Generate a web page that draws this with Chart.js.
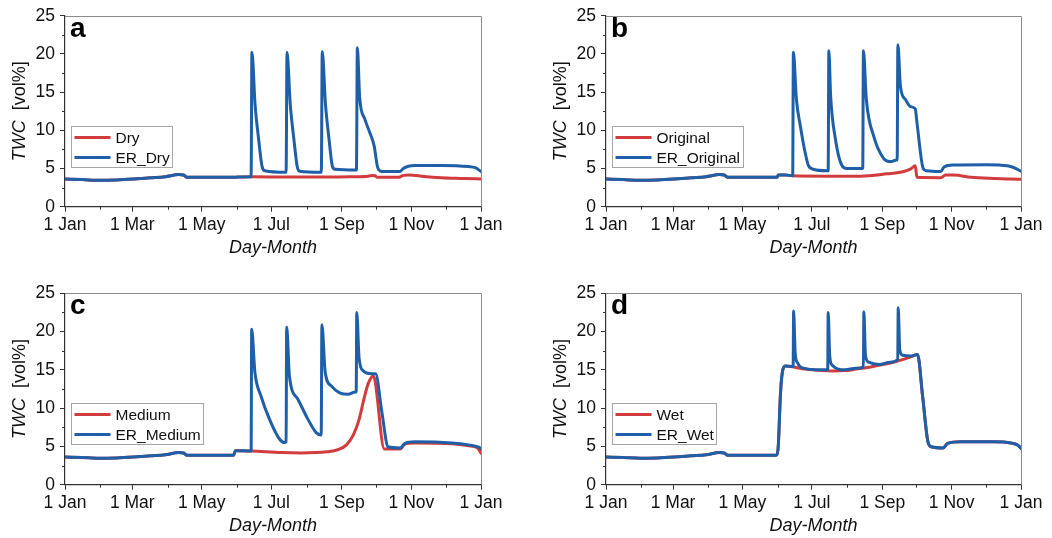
<!DOCTYPE html>
<html>
<head>
<meta charset="utf-8">
<script src="https://cdn.jsdelivr.net/npm/chart.js@4.4.1/dist/chart.umd.min.js"></script>
<style>
  body { margin: 0; background: #fff; }
  #wrap { position: relative; width: 1052px; height: 538px; }
  #wrap canvas { position: absolute; }
</style>
</head>
<body>
<div id="wrap">
  <canvas id="pa" width="526" height="269" style="left:0;top:0"></canvas>
  <canvas id="pb" width="526" height="269" style="left:526px;top:0"></canvas>
  <canvas id="pc" width="526" height="269" style="left:0;top:269px"></canvas>
  <canvas id="pd" width="526" height="269" style="left:526px;top:269px"></canvas>
</div>
<script>
// x axis: day of year, labelled by month
const tickDays = [0, 59, 120, 181, 243, 304, 365];
const tickLabels = ['1 Jan', '1 Mar', '1 May', '1 Jul', '1 Sep', '1 Nov', '1 Jan'];
const minorDays = [31, 90, 151, 212, 273, 334];
const minorTwc = [2.5, 7.5, 12.5, 17.5, 22.5];

// shared Jan-May part of every curve
const baseDays = [0, 15, 30, 45, 60, 75, 88, 100, 104, 107, 130, 148];
const baseVals = [3.62, 3.55, 3.45, 3.5, 3.62, 3.78, 3.92, 4.2, 4.15, 3.85, 3.85, 3.85];

// a - Dry
const dryDays = [155, 163, 200, 250, 266, 270, 272, 274, 293, 297, 302, 315, 330, 350, 365];
const dryVals = [3.9, 3.92, 3.88, 3.92, 4.0, 4.1, 4.05, 3.85, 3.85, 4.1, 4.15, 3.95, 3.8, 3.7, 3.62];
const erDryDays = [155, 163.3, 164, 166.8, 170, 173, 175.5, 193.5, 194, 194.8, 197.6, 201, 203.8, 206, 224.3,
  224.9, 225.7, 228.5, 231.7, 234.6, 237, 255.1, 255.7, 256.5, 258.6, 263, 267.4, 271.2, 274.2, 276.2,
  280.6, 293.8, 296.8, 301.2, 307, 330, 354, 360, 365];
const erDryVals = [3.9, 3.92, 20.2, 13.3, 8.7, 5.2, 4.7, 4.5, 4.5, 20.2, 13.5, 8.6, 5.2, 4.65, 4.5,
  4.5, 20.3, 13.5, 8.8, 5.3, 4.9, 4.8, 4.8, 20.8, 14.2, 11.5, 9.7, 8.0, 5.2, 4.7,
  4.6, 4.6, 5.0, 5.3, 5.4, 5.4, 5.25, 5.1, 4.6];

// b - Original
const origDays = [150.5, 151.5, 158, 164, 194, 224, 247, 262, 268, 272, 273.5, 294.4, 298.7, 306, 321, 341.5, 365];
const origVals = [3.85, 4.15, 4.15, 4.05, 4.0, 4.0, 4.3, 4.6, 4.95, 5.35, 3.85, 3.8, 4.15, 4.15, 3.85, 3.7, 3.6];
const erOrigDays = [150.5, 151.5, 158, 164.2, 164.8, 167.5, 171, 175, 178, 182.5, 194.3, 195.4, 196, 197.6, 201.6,
  207.5, 212, 225.2, 225.8, 226.4, 229, 235.5, 244.3, 250.2, 255.5, 256.1, 256.7, 259, 263.5, 267.9,
  272, 273.5, 279, 282, 294.4, 297.3, 306, 335.5, 353, 359, 365];
const erOrigVals = [3.85, 4.15, 4.15, 4.05, 20.2, 14.0, 10.5, 7.2, 5.4, 4.9, 4.7, 4.7, 20.4, 14.4, 9.0,
  5.4, 5.0, 5.0, 5.0, 20.4, 14.0, 9.2, 6.3, 5.9, 6.1, 6.1, 21.2, 15.7, 14.0, 13.1,
  12.8, 11.0, 5.0, 4.7, 4.6, 5.2, 5.45, 5.5, 5.35, 5.1, 4.65];

// c - Medium
const medDays = [148, 149.5, 151.5, 163.5, 190, 207, 230, 240, 247, 253, 258, 262, 266, 270.4, 272, 280.2,
  294, 298.3, 307, 339.4, 354, 362, 365];
const medVals = [3.85, 4.45, 4.45, 4.4, 4.2, 4.15, 4.3, 4.6, 5.2, 6.5, 8.5, 11.0, 13.2, 14.2, 13.6, 4.65,
  4.65, 5.3, 5.45, 5.35, 5.1, 4.8, 4.1];
const erMedDays = [148, 149.5, 151.5, 163.3, 163.8, 166.6, 171.9, 180.7, 188, 192.5, 194, 194.5, 196.9, 204.2, 213,
  220.4, 224.2, 224.8, 225.4, 228.3, 233.6, 241, 248.3, 254.8, 255.5, 256, 258, 261.5, 268.9, 272.5,
  278, 283.5, 293.9, 298.3, 307, 339.4, 354, 363, 365];
const erMedVals = [3.85, 4.45, 4.45, 4.4, 20.3, 14.7, 11.6, 8.1, 6.0, 5.5, 5.6, 20.6, 14.2, 11.2, 8.6,
  6.8, 6.5, 6.5, 20.9, 14.7, 12.9, 12.0, 11.8, 12.1, 12.1, 22.5, 16.6, 14.9, 14.5, 14.5,
  9.5, 4.95, 4.8, 5.4, 5.6, 5.45, 5.2, 4.9, 4.7];

// d - Wet
const wetDays = [150.2, 151.5, 153.5, 155.5, 158, 164, 175, 190, 200, 210, 220, 230, 240, 250, 260,
  268, 274, 278.5, 283, 286, 296.5, 300.5, 312, 341.5, 356.2, 362, 365];
const wetVals = [3.9, 5.0, 12.0, 15.0, 15.5, 15.4, 15.1, 14.9, 14.85, 14.9, 15.1, 15.3, 15.6, 15.9, 16.3,
  16.7, 17.0, 11.5, 5.7, 4.95, 4.8, 5.4, 5.6, 5.6, 5.45, 5.2, 4.75];
const erWetDays = [150.2, 151.5, 153.5, 155.5, 158, 164.6, 165, 166.4, 168.5, 172, 190, 195, 195.4, 196.8, 199,
  210, 220, 226.4, 226.8, 228.2, 231, 240, 250, 256.6, 257, 258.4, 261, 268, 274, 278.5,
  283, 286, 296.5, 300.5, 312, 341.5, 356.2, 362, 365];
const erWetVals = [3.9, 5.0, 12.0, 15.0, 15.5, 15.45, 22.7, 17.2, 15.9, 15.3, 15.0, 15.0, 22.5, 16.8, 15.6,
  15.0, 15.2, 15.35, 22.6, 16.9, 16.0, 15.7, 16.0, 16.35, 23.1, 17.6, 16.9, 16.8, 17.0, 11.5,
  5.7, 4.95, 4.8, 5.4, 5.6, 5.6, 5.45, 5.2, 4.75];

const FONT = '"Liberation Sans", Arial, sans-serif';
const RED = '#d23c3c';
const BLUE = '#1f5fa8';
const INK = '#111';

function pts(days, vals) {
  const d = baseDays.concat(days), v = baseVals.concat(vals);
  return d.map((x, i) => ({ x, y: v[i] }));
}

// frame, minor ticks, panel letter, axis titles and the boxed legend
const decor = {
  id: 'decor',
  afterDraw(chart, args, opts) {
    const { ctx, chartArea: a, scales: { x, y } } = chart;
    ctx.save();
    ctx.strokeStyle = '#8c8c8c';
    ctx.lineWidth = 1;
    ctx.beginPath();
    ctx.moveTo(a.left, Math.round(a.top) + 0.5);
    ctx.lineTo(Math.round(a.right) + 0.5, Math.round(a.top) + 0.5);
    ctx.lineTo(Math.round(a.right) + 0.5, a.bottom);
    ctx.stroke();

    ctx.strokeStyle = '#333';
    ctx.beginPath();
    minorDays.forEach(d => {
      const px = Math.round(x.getPixelForValue(d)) + 0.5;
      ctx.moveTo(px, a.bottom); ctx.lineTo(px, a.bottom + 3);
    });
    minorTwc.forEach(v => {
      const py = Math.round(y.getPixelForValue(v)) + 0.5;
      ctx.moveTo(a.left, py); ctx.lineTo(a.left - 3, py);
    });
    ctx.stroke();

    ctx.fillStyle = '#000';
    ctx.textBaseline = 'alphabetic';
    ctx.textAlign = 'left';
    ctx.font = `bold 28px ${FONT}`;
    ctx.fillText(opts.letter, a.left + 5, a.top + 21);

    // x title
    ctx.fillStyle = INK;
    ctx.font = `italic 18px ${FONT}`;
    ctx.textAlign = 'center';
    ctx.textBaseline = 'middle';
    ctx.fillText('Day-Month', (a.left + a.right) / 2, a.bottom + 41);

    // y title, "TWC" in italics
    ctx.save();
    ctx.translate(a.left - 45, (a.top + a.bottom) / 2);
    ctx.rotate(-Math.PI / 2);
    ctx.textAlign = 'left';
    ctx.font = `italic 18px ${FONT}`;
    const w1 = ctx.measureText('TWC').width;
    ctx.font = `18px ${FONT}`;
    const w2 = ctx.measureText('  [vol%]').width;
    let sx = -(w1 + w2) / 2;
    ctx.font = `italic 18px ${FONT}`;
    ctx.fillText('TWC', sx, 0);
    ctx.font = `18px ${FONT}`;
    ctx.fillText('  [vol%]', sx + w1, 0);
    ctx.restore();

    // legend
    const sets = chart.data.datasets;
    ctx.font = `15.5px ${FONT}`;
    const tw = Math.max(...sets.map(s => ctx.measureText(s.label).width));
    const lx = Math.round(a.left + 6) + 0.5, ly = Math.round(a.top + 110) + 0.5;
    const bw = Math.round(3 + 36 + 5 + tw + 3), bh = 41;
    ctx.fillStyle = '#fff';
    ctx.fillRect(lx, ly, bw, bh);
    ctx.strokeStyle = '#a6a6a6';
    ctx.lineWidth = 1;
    ctx.strokeRect(lx, ly, bw, bh);
    sets.forEach((s, i) => {
      const ry = ly + 11 + i * 20;
      ctx.strokeStyle = s.borderColor;
      ctx.lineWidth = 3;
      ctx.beginPath();
      ctx.moveTo(lx + 3, ry); ctx.lineTo(lx + 39, ry);
      ctx.stroke();
      ctx.fillStyle = INK;
      ctx.textAlign = 'left';
      ctx.textBaseline = 'middle';
      ctx.fillText(s.label, lx + 44, ry + 1);
    });
    ctx.restore();
  }
};

function makePanel(id, letter, box, redLabel, redPts, blueLabel, bluePts) {
  return new Chart(document.getElementById(id), {
    type: 'line',
    data: {
      datasets: [
        { label: redLabel, data: redPts, borderColor: RED, order: 1 },
        { label: blueLabel, data: bluePts, borderColor: BLUE, order: 0 }
      ]
    },
    options: {
      responsive: false,
      animation: false,
      parsing: false,
      layout: { padding: { left: 0, right: 526 - box.right, top: box.top, bottom: 0 } },
      elements: {
        point: { radius: 0 },
        line: { borderWidth: 3, borderJoinStyle: 'round', borderCapStyle: 'round', cubicInterpolationMode: 'monotone' }
      },
      plugins: { legend: { display: false }, tooltip: { enabled: false }, decor: { letter } },
      scales: {
        x: {
          type: 'linear', min: 0, max: 365,
          afterBuildTicks: s => { s.ticks = tickDays.map(v => ({ value: v })); },
          afterFit: s => { s.height = 269 - box.bottom; },
          ticks: {
            autoSkip: false, maxRotation: 0, padding: 3, color: INK,
            font: { family: FONT, size: 17.5 },
            callback: v => tickLabels[tickDays.indexOf(v)]
          },
          grid: { drawOnChartArea: false, tickLength: 5, tickColor: '#333' },
          border: { color: '#333', width: 1.2 }
        },
        y: {
          min: 0, max: 25,
          afterFit: s => { s.width = box.left; },
          ticks: { stepSize: 5, padding: 5, color: INK, font: { family: FONT, size: 17.5 } },
          grid: { drawOnChartArea: false, tickLength: 5, tickColor: '#333' },
          border: { color: '#333', width: 1.2 }
        }
      }
    },
    plugins: [decor]
  });
}

const leftBox = { left: 65, right: 481 };
const rightBox = { left: 80, right: 495 };

makePanel('pa', 'a', { ...leftBox, top: 15.7, bottom: 206.7 }, 'Dry', pts(dryDays, dryVals), 'ER_Dry', pts(erDryDays, erDryVals));
makePanel('pb', 'b', { ...rightBox, top: 15.7, bottom: 206.7 }, 'Original', pts(origDays, origVals), 'ER_Original', pts(erOrigDays, erOrigVals));
makePanel('pc', 'c', { ...leftBox, top: 24.3, bottom: 215.7 }, 'Medium', pts(medDays, medVals), 'ER_Medium', pts(erMedDays, erMedVals));
makePanel('pd', 'd', { ...rightBox, top: 24.3, bottom: 215.7 }, 'Wet', pts(wetDays, wetVals), 'ER_Wet', pts(erWetDays, erWetVals));
</script>
</body>
</html>
